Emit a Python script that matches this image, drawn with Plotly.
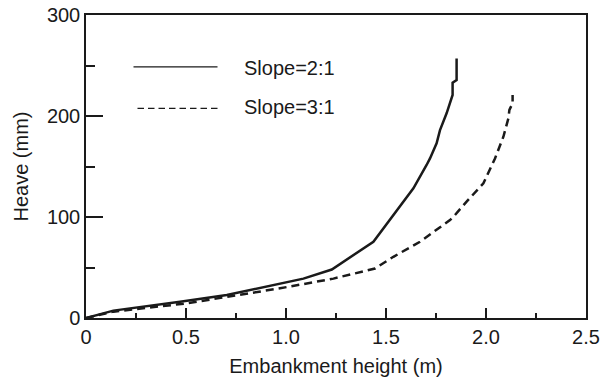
import plotly.graph_objects as go

# Heave versus embankment height for two side slopes
height_2to1 = [0.0, 0.137, 0.47, 0.704, 1.087, 1.229, 1.437, 1.537, 1.637, 1.703, 1.72, 1.753, 1.77, 1.803, 1.833, 1.833, 1.853, 1.853]
heave_2to1 = [0.0, 7.3, 16.0, 22.8, 39.0, 48.0, 75.5, 102.0, 128.4, 151.5, 158.0, 173.0, 186.0, 202.7, 220.8, 233.0, 235.6, 257.0]

height_3to1 = [0.0, 0.137, 0.503, 0.704, 0.97, 1.237, 1.445, 1.537, 1.67, 1.82, 1.845, 1.903, 1.987, 2.045, 2.087, 2.112, 2.117, 2.133, 2.133]
heave_3to1 = [0.0, 6.3, 14.5, 21.0, 29.4, 39.0, 49.0, 60.6, 75.5, 97.0, 102.0, 115.2, 133.3, 158.0, 179.5, 197.7, 206.0, 212.6, 220.8]

series_names = ["Slope=2:1", "Slope=3:1"]
x_ticks = [0, 0.5, 1.0, 1.5, 2.0, 2.5]
x_tick_text = ["0", "0.5", "1.0", "1.5", "2.0", "2.5"]
y_ticks = [0, 100, 200, 300]

FONT = "Liberation Sans, Arial, Helvetica, sans-serif"
INK = "#1a1a1a"

fig = go.Figure()
fig.add_trace(go.Scatter(x=height_2to1, y=heave_2to1, mode="lines", name=series_names[0],
                         line=dict(color=INK, width=2.5), showlegend=False))
fig.add_trace(go.Scatter(x=height_3to1, y=heave_3to1, mode="lines", name=series_names[1],
                         line=dict(color=INK, width=2.5, dash="8px,5px"), showlegend=False))

# Hand-placed key in the upper left of the plot area
key_rows = [
    dict(x0=0.095, x1=0.263, y=0.829, dash="solid", ty=0.825),
    dict(x0=0.103, x1=0.271, y=0.692, dash="6.5px,4px", ty=0.696),
]
for name, row in zip(series_names, key_rows):
    fig.add_shape(type="line", xref="paper", yref="paper", x0=row["x0"], x1=row["x1"],
                  y0=row["y"], y1=row["y"], line=dict(color=INK, width=1.3, dash=row["dash"]))
    fig.add_annotation(xref="paper", yref="paper", x=0.311, y=row["ty"], text=name,
                       showarrow=False, xanchor="left", yanchor="middle",
                       font=dict(family=FONT, size=20, color=INK))

axis_common = dict(
    showgrid=False, zeroline=False, showline=True, mirror=True, automargin=False,
    linecolor=INK, linewidth=1.5, ticks="inside", tickcolor=INK,
    tickwidth=1.5, tickfont=dict(family=FONT, size=20, color=INK),
)

fig.update_xaxes(
    range=[0, 2.5], tickvals=x_ticks, ticktext=x_tick_text, ticklen=10,
    minor=dict(dtick=0.25, ticks="inside", ticklen=5, tickcolor=INK, tickwidth=1.5, showgrid=False),
    title=dict(text="Embankment height (m)", font=dict(family=FONT, size=20, color=INK), standoff=12),
    **axis_common,
)
fig.update_yaxes(
    range=[0, 300], tickvals=y_ticks, ticklen=17,
    minor=dict(dtick=50, ticks="inside", ticklen=9, tickcolor=INK, tickwidth=1.5, showgrid=False),
    title=dict(text="Heave (mm)", font=dict(family=FONT, size=20, color=INK), standoff=13),
    **axis_common,
)

fig.update_layout(
    width=601, height=382,
    margin=dict(l=86, r=15, t=15, b=64),
    paper_bgcolor="white", plot_bgcolor="white",
    font=dict(family=FONT, color=INK),
)

fig.write_html("out.html")
